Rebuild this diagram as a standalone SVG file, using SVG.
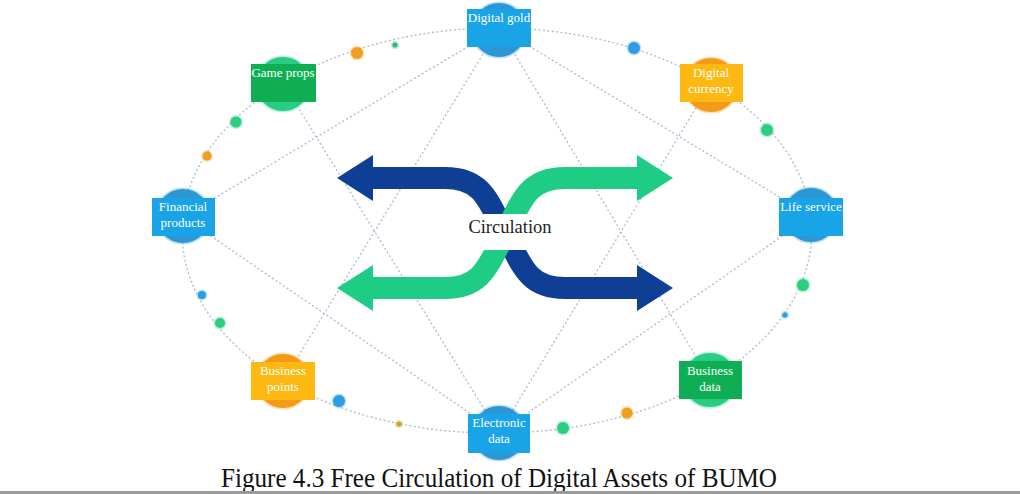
<svg xmlns="http://www.w3.org/2000/svg" width="1020" height="494" viewBox="0 0 1020 494">
<style>
.link{fill:none;stroke:#b2bed0;stroke-width:1.4;stroke-dasharray:2 2.4}
.lbl{font-family:"Liberation Serif","Times New Roman",serif;font-size:13px;fill:#ffffff;text-anchor:middle}
.cb{fill:#2d97d5;stroke:#2d97d5;stroke-opacity:.3;stroke-width:3}
.rb{fill:#19a4e8}
.cg{fill:#28cc84;stroke:#28cc84;stroke-opacity:.3;stroke-width:3}
.rg{fill:#0fae55}
.co{fill:#f39b15;stroke:#f39b15;stroke-opacity:.3;stroke-width:3}
.ro{fill:#fdb912}
.dot{stroke-opacity:.3;stroke-width:3}
</style>
<rect width="1020" height="494" fill="#ffffff"/>
<g id="connectors">
  <path class="link" d="M499 28 A314 202 0 0 1 711 83"/>
  <path class="link" d="M711 83 A314 202 0 0 1 811 216"/>
  <path class="link" d="M811 216 A314 202 0 0 1 710 380"/>
  <path class="link" d="M710 380 A314 202 0 0 1 499 433"/>
  <path class="link" d="M499 433 A314 202 0 0 1 283 381"/>
  <path class="link" d="M283 381 A314 202 0 0 1 183 217"/>
  <path class="link" d="M183 217 A314 202 0 0 1 283 83"/>
  <path class="link" d="M283 83 A314 202 0 0 1 499 28"/>
  <line class="link" x1="499" y1="28" x2="183" y2="217"/>
  <line class="link" x1="499" y1="28" x2="811" y2="216"/>
  <line class="link" x1="499" y1="28" x2="283" y2="381"/>
  <line class="link" x1="499" y1="28" x2="710" y2="380"/>
  <line class="link" x1="499" y1="433" x2="283" y2="83"/>
  <line class="link" x1="499" y1="433" x2="711" y2="83"/>
  <line class="link" x1="499" y1="433" x2="183" y2="217"/>
  <line class="link" x1="499" y1="433" x2="811" y2="216"/>
</g>
<g id="ring-dots">
  <circle class="dot" cx="357" cy="53" r="6" fill="#f0a020" stroke="#f0a020"/>
  <circle class="dot" cx="395" cy="45" r="2.5" fill="#2db97a" stroke="#2db97a"/>
  <circle class="dot" cx="634" cy="48" r="6" fill="#2a9ee0" stroke="#2a9ee0"/>
  <circle class="dot" cx="767" cy="130" r="6" fill="#2ccf80" stroke="#2ccf80"/>
  <circle class="dot" cx="236" cy="122" r="5.5" fill="#2ccf80" stroke="#2ccf80"/>
  <circle class="dot" cx="207" cy="156" r="4.5" fill="#f0a020" stroke="#f0a020"/>
  <circle class="dot" cx="803" cy="285" r="6" fill="#2ccf80" stroke="#2ccf80"/>
  <circle class="dot" cx="785" cy="315" r="2.5" fill="#2a9ee0" stroke="#2a9ee0"/>
  <circle class="dot" cx="202" cy="295" r="4" fill="#2a9ee0" stroke="#2a9ee0"/>
  <circle class="dot" cx="220" cy="323" r="5" fill="#2ccf80" stroke="#2ccf80"/>
  <circle class="dot" cx="339" cy="401" r="6" fill="#2a9ee0" stroke="#2a9ee0"/>
  <circle class="dot" cx="399" cy="424" r="2.5" fill="#c9a227" stroke="#c9a227"/>
  <circle class="dot" cx="563" cy="428" r="6" fill="#2ccf80" stroke="#2ccf80"/>
  <circle class="dot" cx="627" cy="413" r="5.5" fill="#f0a020" stroke="#f0a020"/>
</g>
<g id="circulation">
  <path d="M370 178 H445 C482 178 488 200 505 233 C522 266 528 288 565 288 H640" fill="none" stroke="#0e3f95" stroke-width="22"/>
  <polygon points="337,178 373,155 373,201" fill="#0e3f95"/>
  <polygon points="673,288 637,265 637,311" fill="#0e3f95"/>
  <path d="M640 178 H565 C528 178 522 200 505 233 C488 266 482 288 445 288 H370" fill="none" stroke="#1fcc86" stroke-width="22"/>
  <polygon points="673,178 637,155 637,201" fill="#1fcc86"/>
  <polygon points="337,288 373,265 373,311" fill="#1fcc86"/>
  <rect x="455" y="214" width="100" height="36" fill="#ffffff"/>
  <text x="510" y="233" font-family="'Liberation Serif','Times New Roman',serif" font-size="18.5" fill="#222222" text-anchor="middle">Circulation</text>
</g>
<g id="node-digital-gold">
  <circle class="cb" cx="499" cy="30" r="27"/>
  <rect class="rb" x="467" y="9" width="64" height="38"/>
  <text class="lbl" x="499" y="22">Digital gold</text>
</g>
<g id="node-game-props">
  <circle class="cg" cx="283" cy="84" r="27"/>
  <rect class="rg" x="251" y="64" width="65" height="38"/>
  <text class="lbl" x="283" y="77">Game props</text>
</g>
<g id="node-digital-currency">
  <circle class="co" cx="711" cy="85" r="27"/>
  <rect class="ro" x="680" y="64" width="63" height="38"/>
  <text class="lbl" x="711" y="77">Digital</text>
  <text class="lbl" x="711" y="93">currency</text>
</g>
<g id="node-financial-products">
  <circle class="cb" cx="183" cy="216" r="27"/>
  <rect class="rb" x="152" y="198" width="63" height="38"/>
  <text class="lbl" x="183" y="211">Financial</text>
  <text class="lbl" x="183" y="227">products</text>
</g>
<g id="node-life-service">
  <circle class="cb" cx="811" cy="215" r="27"/>
  <rect class="rb" x="779" y="198" width="64" height="38"/>
  <text class="lbl" x="811" y="211">Life service</text>
</g>
<g id="node-business-points">
  <circle class="co" cx="283" cy="381" r="27"/>
  <rect class="ro" x="251" y="362" width="64" height="38"/>
  <text class="lbl" x="283" y="375">Business</text>
  <text class="lbl" x="283" y="391">points</text>
</g>
<g id="node-business-data">
  <circle class="cg" cx="710" cy="380" r="27"/>
  <rect class="rg" x="679" y="361" width="63" height="38"/>
  <text class="lbl" x="710" y="375">Business</text>
  <text class="lbl" x="710" y="391">data</text>
</g>
<g id="node-electronic-data">
  <circle class="cb" cx="499" cy="433" r="27"/>
  <rect class="rb" x="468" y="414" width="62" height="39"/>
  <text class="lbl" x="499" y="427">Electronic</text>
  <text class="lbl" x="499" y="443">data</text>
</g>
<text x="499" y="487" font-family="'Liberation Serif','Times New Roman',serif" font-size="27" fill="#111111" text-anchor="middle" textLength="556" lengthAdjust="spacingAndGlyphs">Figure 4.3 Free Circulation of Digital Assets of BUMO</text>
<rect x="0" y="491" width="1020" height="3" fill="#9a9a9a"/>
</svg>
